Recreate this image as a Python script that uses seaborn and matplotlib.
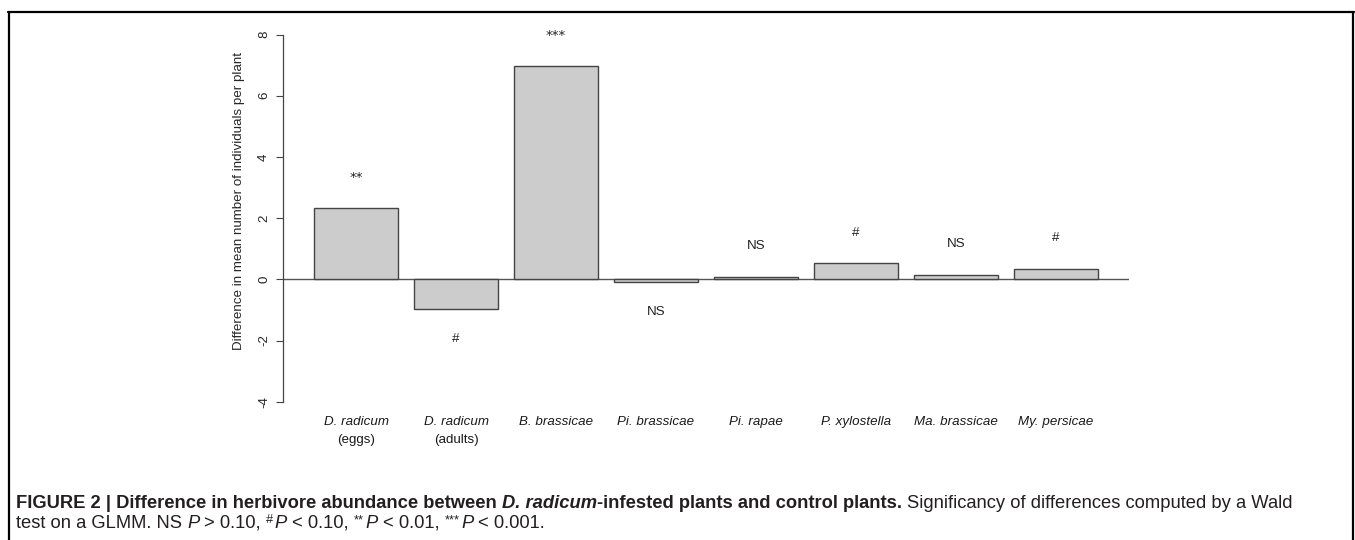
import numpy as np
import pandas as pd
import seaborn as sns
import matplotlib.pyplot as plt
from matplotlib.lines import Line2D
from matplotlib.transforms import blended_transform_factory

# values
species = ['D. radicum', 'D. radicum', 'B. brassicae', 'Pi. brassicae',
           'Pi. rapae', 'P. xylostella', 'Ma. brassicae', 'My. persicae']
stages = ['(eggs)', '(adults)', '', '', '', '', '', '']
diff = [2.32, -0.96, 6.97, -0.08, 0.09, 0.52, 0.14, 0.34]
signif = ['**', '#', '***', 'NS', 'NS', '#', 'NS', '#']

sns.set_theme(style='white')
plt.rcParams['font.family'] = ['Liberation Sans', 'DejaVu Sans']

df = pd.DataFrame({'key': [s + ' ' + t for s, t in zip(species, stages)],
                   'diff': diff})

fig = plt.figure(figsize=(13.55, 5.4), dpi=100)
ax = fig.add_axes([0.2086, 0.2289, 0.6244, 0.7344])

sns.barplot(data=df, x='key', y='diff', color='#cccccc', saturation=1,
            edgecolor='#444444', linewidth=1, width=1 / 1.2, ax=ax)
ax.axhline(0, color='#555555', lw=1, zorder=0)

fs = 9.6
for i, (v, s) in enumerate(zip(diff, signif)):
    ypos = v + 1 if v > 0 else v - 1
    fam = 'DejaVu Sans' if '*' in s else 'Liberation Sans'
    ax.text(i, ypos, s, ha='center', va='center', fontsize=fs, color='#222222',
            family=fam)

ax.set_xlim(-0.734, 7.727)
ax.set_ylim(-4.48, 8.48)
for side in ['top', 'right', 'bottom']:
    ax.spines[side].set_visible(False)
ax.spines['left'].set_bounds(-4, 8)
ax.spines['left'].set_color('#444444')
ax.spines['left'].set_linewidth(0.9)

yt = np.arange(-4, 9, 2)
ax.set_yticks(yt)
ax.set_yticklabels([str(v) for v in yt], rotation=90, va='center', fontsize=fs)
ax.tick_params(axis='y', left=True, direction='out', length=5, width=0.8,
               color='#444444', pad=4)

ax.set_xticks(range(len(species)))
ax.set_xticklabels(species, style='italic', fontsize=fs, color='#1a1a1a')
ax.tick_params(axis='x', bottom=False, length=0, pad=0)
trans = blended_transform_factory(ax.transData, ax.transAxes)
for i, t in enumerate(stages):
    if t:
        ax.text(i, -0.0595, t, transform=trans, ha='center', va='center',
                fontsize=fs, color='#1a1a1a')

ax.set_xlabel('')
ax.set_ylabel('Difference in mean number of individuals per plant', fontsize=fs)
ax.yaxis.set_label_coords(-0.045, 0.542)

# frame around figure (top, left, right)
W, H = 1355, 540
for xs, ys in [([8, 1354], [12, 12]), ([8.5, 8.5], [12, 540]), ([1353, 1353], [12, 540])]:
    fig.add_artist(Line2D([x / W for x in xs], [1 - y / H for y in ys],
                          color='black', lw=1.6, transform=fig.transFigure))

# caption, drawn run by run
renderer = fig.canvas.get_renderer()
cfs = 13.25
space = cfs * 0.278 * 100 / 72


def draw_runs(x_px, y_px, runs):
    for txt, kw in runs:
        if txt == ' ':
            x_px += space
            continue
        size = cfs
        dy = 0
        if kw.get('sup'):
            size = cfs * 0.7
            dy = 5
        style = {k: v for k, v in kw.items() if k != 'sup'}
        t = fig.text(x_px / W, 1 - (y_px - dy) / H, txt, fontsize=size,
                     va='baseline', ha='left', color='#231f20', **style)
        bb = t.get_window_extent(renderer=renderer)
        x_px += bb.width + (1.5 if kw.get('sup') else 0)


B = {'weight': 'bold'}
BI = {'weight': 'bold', 'style': 'italic'}
N = {}
I = {'style': 'italic'}
S = {'sup': True}
line1 = [('FIGURE 2 | Difference in herbivore abundance between', B), (' ', N),
         ('D. radicum', BI), ('-infested plants and control plants.', B), (' ', N),
         ('Significancy of differences computed by a Wald', N)]
line2 = [('test on a GLMM. NS', N), (' ', N), ('P', I), (' ', N), ('> 0.10,', N), (' ', N),
         ('#', S), ('P', I), (' ', N), ('< 0.10,', N), (' ', N),
         ('**', S), ('P', I), (' ', N), ('< 0.01,', N), (' ', N),
         ('***', S), ('P', I), (' ', N), ('< 0.001.', N)]
draw_runs(16, 508, line1)
draw_runs(16, 528, line2)

fig.savefig('out.png', dpi=100)
